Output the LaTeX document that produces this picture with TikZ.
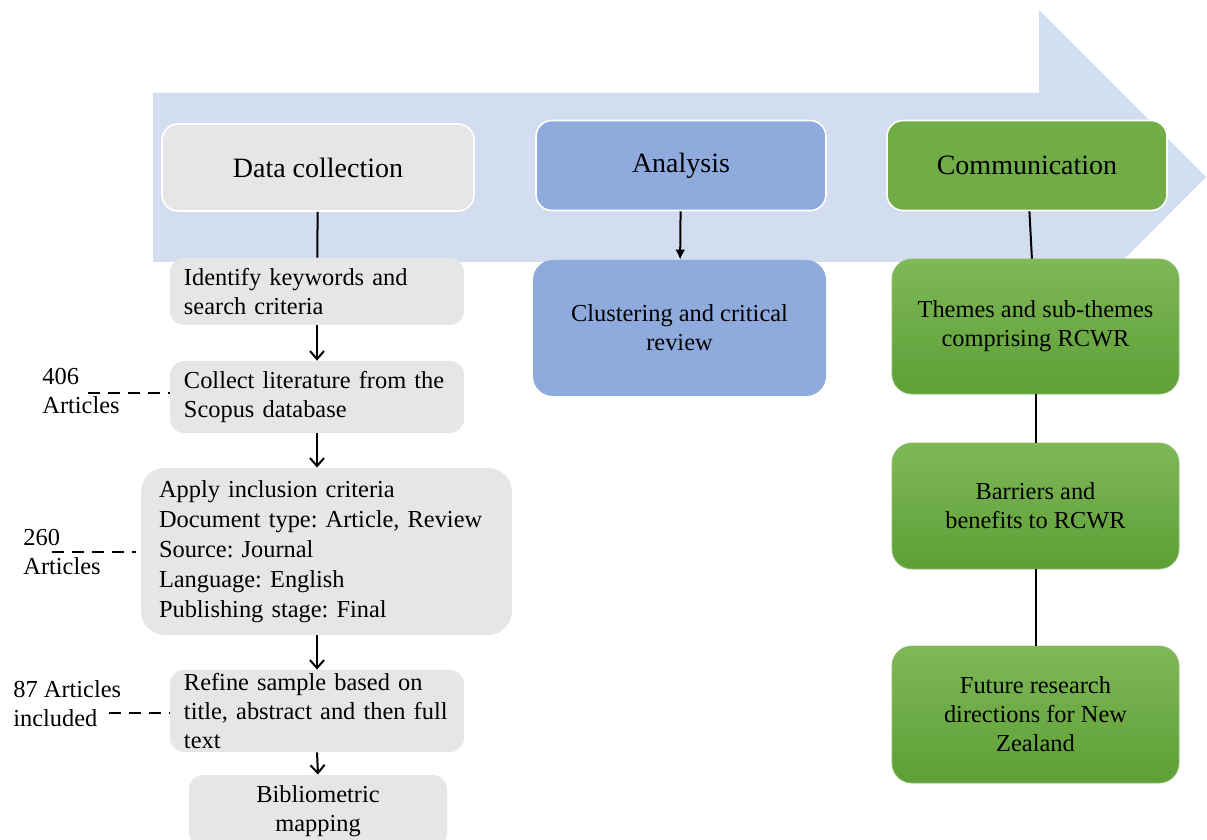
\documentclass[tikz,border=0pt]{standalone}
\usepackage{fontspec}
\setmainfont{Liberation Serif}
\usepackage{xcolor}
\usetikzlibrary{arrows.meta, positioning}

\definecolor{flowbg}{HTML}{D2DDEF}
\definecolor{greybox}{HTML}{E7E6E6}
\definecolor{bluebox}{HTML}{8FAADC}
\definecolor{greenbox}{HTML}{70AD47}
\definecolor{greentop}{HTML}{7EB857}
\definecolor{greenbot}{HTML}{5E9F36}

\frenchspacing
\begin{document}
\begin{tikzpicture}[
    x=0.5pt, y=-0.5pt,
    every node/.style={font=\fontsize{12.2}{14.5}\selectfont},
    phase/.style={rectangle, rounded corners=8pt, draw=white, thick, minimum height=45pt, font=\fontsize{14}{17}\selectfont},
    task/.style={rectangle, rounded corners=7pt, fill=greybox, align=left, inner xsep=8pt, inner ysep=0pt},
    result/.style={rectangle, rounded corners=10pt, align=center, minimum width=143.5pt, top color=greentop, bottom color=greenbot, draw=greenbox!80!white},
    note/.style={align=left, inner sep=0pt, anchor=west},
    arrow/.style={line width=1pt, -{Straight Barb[length=4pt,width=7pt]}},
    link/.style={line width=1pt},
    dashline/.style={line width=1pt, dash pattern=on 6pt off 4pt}
]
\useasboundingbox (0,0) rectangle (1207,840);

% process arrow behind the phases
\fill[flowbg] (153,93) -- (1039,93) -- (1039,10) -- (1206,177) -- (1039,345) -- (1039,262) -- (153,262) -- cycle;

% phases
\node[phase, fill=greybox, minimum width=156pt, minimum height=43.5pt] (datacol) at (318,167.5) {Data collection};
\node[phase, fill=bluebox, minimum width=145pt] (analysis) at (681,165.5) {Analysis};
\node[phase, fill=greenbox, minimum width=140pt] (comm) at (1027,165.5) {Communication};

% data collection steps
\node[task, text width=133pt, inner xsep=7pt, minimum height=33.5pt] (identify) at (317,291.5) {Identify keywords and\\search criteria};
\node[task, text width=133pt, inner xsep=7pt, minimum height=36pt] (collect) at (317,397) {Collect literature from the\\Scopus database};
\node[task, text width=167.5pt, inner xsep=9pt, minimum height=83.5pt, rounded corners=12pt, font=\fontsize{12.2}{15}\selectfont] (apply) at (326.5,551.5) {Apply inclusion criteria\\Document type: Article, Review\\Source: Journal\\Language: English\\Publishing stage: Final};
\node[task, text width=133pt, inner xsep=7pt, minimum height=41pt] (refine) at (317,711) {Refine sample based on\\title, abstract and then full\\text};
\node[task, align=center, minimum width=129pt, minimum height=36pt] (biblio) at (318,811) {Bibliometric\\mapping};

% analysis and communication steps
\node[rectangle, rounded corners=10pt, fill=bluebox, align=center, minimum width=146.5pt, minimum height=68pt] (cluster) at (679.5,328) {Clustering and critical\\review};
\node[result, minimum height=67.5pt] (themes) at (1035.5,326.5) {Themes and sub-themes\\comprising RCWR};
\node[result, minimum height=63pt] (barriers) at (1035.5,506) {Barriers and\\benefits to RCWR};
\node[result, minimum height=68.5pt] (future) at (1035.5,714.5) {Future research\\directions for New\\Zealand};

% article counts
\node[note] (lab406) at (42,391) {406\\Articles};
\node[note] (lab260) at (23,552) {260\\Articles};
\node[note] (lab87) at (13,704) {87 Articles\\included};
\coordinate (d406) at (88,393);
\coordinate (d260) at (52,552);
\coordinate (d87) at (109,713);

% connectors
\draw[link] (datacol) -- (identify);
\draw[arrow] (identify.south) -- (collect.north);
\draw[arrow] (collect.south) -- (collect.south |- apply.north);
\draw[arrow] (refine.north |- apply.south) -- (refine.north);
\draw[arrow] (refine.south) -- (biblio.north);
\draw[line width=1pt, -{Latex[length=5pt,width=5pt]}] (analysis) -- (cluster);
\draw[link] (comm) -- (themes);
\draw[link] (themes) -- (barriers);
\draw[link] (barriers) -- (future);

\draw[dashline] (d406) -- (d406 -| collect.west);
\draw[dashline] (d260) -- ([xshift=-2.5pt]d260 -| apply.west);
\draw[dashline] (d87) -- (d87 -| refine.west);

\end{tikzpicture}
\end{document}
